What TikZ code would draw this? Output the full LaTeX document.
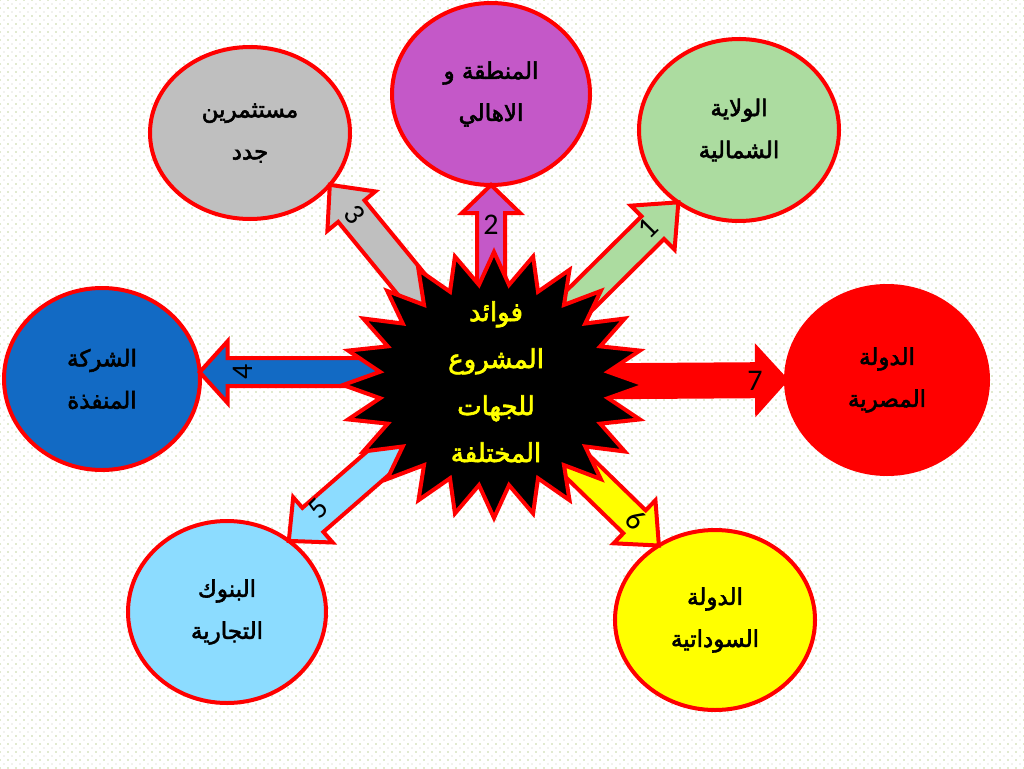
\documentclass[tikz,border=0pt]{standalone}
\usepackage{fontspec}
\usetikzlibrary{calc,patterns.meta,shapes.geometric}
\TeXXeTstate=1
\newfontfamily\arabicfont[Script=Arabic,FakeBold=2.5]{DejaVu Sans}
\newfontfamily\numfont{Carlito}
\definecolor{cgray}{RGB}{191,191,191}
\definecolor{cpurple}{RGB}{196,88,200}
\definecolor{cgreen}{RGB}{172,220,160}
\definecolor{cblue}{RGB}{18,106,196}
\definecolor{cred}{RGB}{255,0,0}
\definecolor{clblue}{RGB}{140,220,255}
\definecolor{cyellow}{RGB}{255,255,0}
\definecolor{dotgreen}{RGB}{196,214,160}
\definecolor{dotgray}{RGB}{228,230,222}
% #1 fill, #2 start, #3 tip, #4 head length, #5 head half width, #6 shaft half width
\newcommand\blockarr[6]{%
  \filldraw[arrsty,fill=#1] (#3)
    -- ($(#3)!#4pt!(#2)!#5pt!90:(#2)$)
    -- ($(#3)!#4pt!(#2)!#6pt!90:(#2)$)
    -- ($(#2)!#6pt!-90:(#3)$)
    -- ($(#2)!#6pt!90:(#3)$)
    -- ($(#3)!#4pt!(#2)!#6pt!-90:(#2)$)
    -- ($(#3)!#4pt!(#2)!#5pt!-90:(#2)$)
    -- cycle;}
\begin{document}
\begin{tikzpicture}[x=1pt,y=-1pt,
  ell/.style={ellipse,draw=cred,line width=4pt,inner sep=0pt,outer sep=0pt,align=center,
    font=\arabicfont\fontsize{23}{42}\selectfont},
  arrsty/.style={draw=cred,line width=4pt,line join=miter},
  starsty/.style={draw=cred,fill=black,line width=4pt,line join=miter},
  numlab/.style={font=\numfont\fontsize{30}{30}\selectfont,text=black,inner sep=0pt}]
\useasboundingbox (0,0) rectangle (1024,768);
\fill[white] (0,0) rectangle (1024,768);
\fill[pattern={Dots[radius=0.8pt,distance=8pt]},pattern color=dotgreen] (0,0) rectangle (1024,768);
\fill[pattern={Dots[radius=0.8pt,distance=8pt,xshift=4pt,yshift=4pt]},pattern color=dotgray] (0,0) rectangle (1024,768);

% ellipses
\node[ell,fill=cgray,minimum width=200pt,minimum height=172pt] (gray) at (250,133)
  {\beginR مستثمرين\endR\\\beginR جدد\endR};
\node[ell,fill=cpurple,minimum width=198pt,minimum height=182pt] (purple) at (491,94)
  {\beginR المنطقة و\endR\\\beginR الاهالي\endR};
\node[ell,fill=cgreen,minimum width=200pt,minimum height=182pt] (green) at (739,130)
  {\beginR الولاية\endR\\\beginR الشمالية\endR};
\node[ell,fill=cblue,minimum width=196pt,minimum height=182pt] (blue) at (102,379)
  {\beginR الشركة\endR\\\beginR المنفذة\endR};
\node[ell,fill=cred,minimum width=202pt,minimum height=188pt] (red) at (887,380)
  {\beginR الدولة\endR\\\beginR المصرية\endR};
\node[ell,fill=clblue,minimum width=198pt,minimum height=182pt] (lblue) at (227,612)
  {\beginR البنوك\endR\\\beginR التجارية\endR};
\node[ell,fill=cyellow,minimum width=200pt,minimum height=180pt] (yellow) at (715,620)
  {\beginR الدولة\endR\\\beginR السوداتية\endR};

% arrow ends
\coordinate (star) at (494,385);
\coordinate (s2) at (491,385);
\coordinate (s4) at (494,372);
\coordinate (s5) at (494,362);
\coordinate (s7) at (494,382);

\blockarr{cgreen}{star}{green.230}{36}{31}{16}
\blockarr{cpurple}{s2}{purple.south}{28}{29}{14}
\blockarr{cgray}{star}{gray.327}{34}{31}{17}
\blockarr{cblue}{s4}{blue.4}{28}{31}{14}
\blockarr{clblue}{s5}{lblue.49}{32}{30}{16}
\blockarr{cyellow}{star}{yellow.127}{34}{30}{16}
\blockarr{cred}{s7}{red.west}{29}{32}{16}

% star
\draw[starsty] ($(star)+(151,0)$)
  \foreach \i in {1,...,47}{ -- ($(star)+({ifthenelse(mod(\i,2)==0,151,115)*cos(\i*7.5)},{ifthenelse(mod(\i,2)==0,133,101)*sin(\i*7.5)})$)} -- cycle;
\node[align=center,text=cyellow,inner sep=0pt,font=\arabicfont\fontsize{26}{47}\selectfont] (title) at (496,382)
  {\beginR فوائد\endR\\\beginR المشروع\endR\\\beginR للجهات\endR\\\beginR المختلفة\endR};

% number labels
\node[numlab,rotate=45] (l1) at (648,228) {1};
\node[numlab] (l2) at (491,225) {2};
\node[numlab,rotate=-52] (l3) at (355,215) {3};
\node[numlab,rotate=90] (l4) at (243,372) {4};
\node[numlab,rotate=45] (l5) at (318,508) {5};
\node[numlab,rotate=-45] (l6) at (636,520) {6};
\node[numlab] (l7) at (755,381) {7};
\end{tikzpicture}
\end{document}
